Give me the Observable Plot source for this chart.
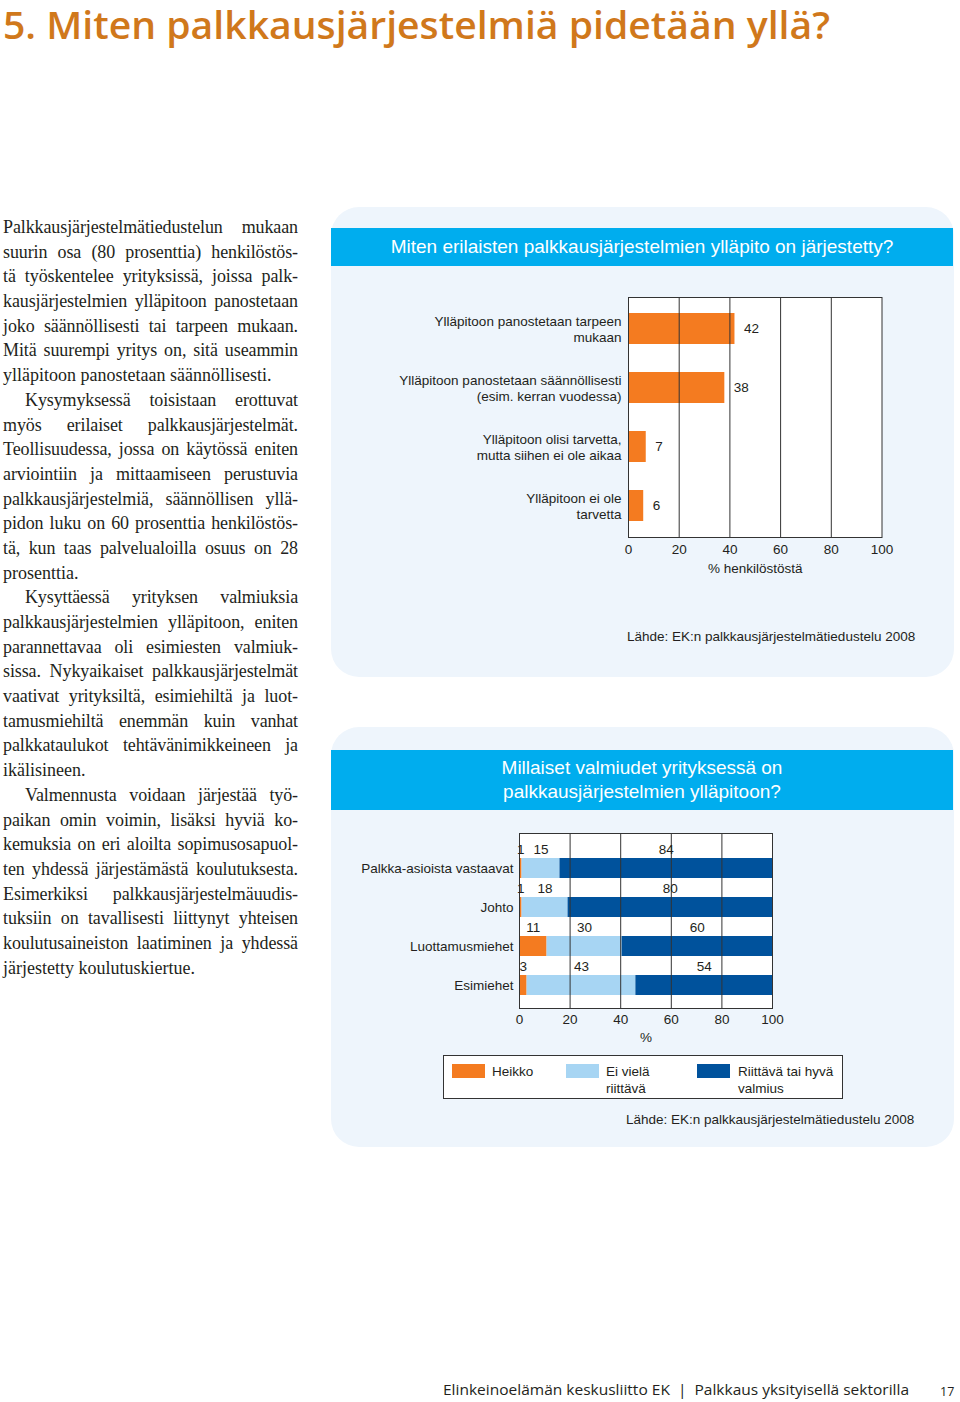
<!DOCTYPE html>
<html lang="fi">
<head>
<meta charset="utf-8">
<script src="https://cdn.jsdelivr.net/npm/d3@7"></script>
<script src="https://cdn.jsdelivr.net/npm/@observablehq/plot@0.6"></script>
<style>
  html, body { margin: 0; padding: 0; background: #fff; }
  body { width: 960px; height: 1402px; position: relative; overflow: hidden; }
  .abs { position: absolute; }
  #title { left: 3px; top: 1px; font-family: "Open Sans", sans-serif; font-weight: 600; font-size: 38px; line-height: 46px; color: #d0781b; white-space: nowrap; transform-origin: 0 0; }
  #body { left: 3px; top: 215px; width: 295px; font-family: "Liberation Serif", "Times New Roman", serif; font-size: 18px; line-height: 24.7px; color: #231f20; }
  #body .l { height: 24.7px; white-space: nowrap; overflow: visible; }
  #body .j { text-align: justify; text-align-last: justify; }
  #body .i { padding-left: 22px; }
  .panel { background: #eef5fc; border-radius: 28px; }
  .band { background: #00adee; color: #fff; font-family: "Liberation Sans", Arial, sans-serif; font-size: 19px; text-align: center; }
  .src { font-family: "Liberation Sans", Arial, sans-serif; font-size: 13.5px; color: #231f20; white-space: nowrap; line-height: 16px; }
  #legend { left: 443px; top: 1055px; width: 398px; height: 42px; background: #fff; border: 1.5px solid #333; font-family: "Liberation Sans", Arial, sans-serif; font-size: 13.5px; color: #231f20; }
  #legend .sw { position: absolute; top: 8px; width: 33px; height: 14px; }
  #legend .lt { position: absolute; top: 7px; line-height: 17px; }
  #footer { left: 443px; top: 1380px; font-family: "Open Sans", sans-serif; font-size: 14px; line-height: 20px; color: #231f20; white-space: nowrap; transform-origin: 0 0; }
  #page { left: 940px; top: 1382px; font-family: "Open Sans", sans-serif; font-size: 12.5px; line-height: 20px; color: #231f20; }
</style>
</head>
<body>
<script>
// ---------- Data ----------
const pageTitle = "5. Miten palkkausjärjestelmiä pidetään yllä?";

const chart1Title = "Miten erilaisten palkkausjärjestelmien ylläpito on järjestetty?";
const maintCategories = [
  "Ylläpitoon panostetaan tarpeen\nmukaan",
  "Ylläpitoon panostetaan säännöllisesti\n(esim. kerran vuodessa)",
  "Ylläpitoon olisi tarvetta,\nmutta siihen ei ole aikaa",
  "Ylläpitoon ei ole\ntarvetta"
];
const maintValues = [42, 38, 7, 6];
const chart1XLabel = "% henkilöstöstä";

const chart2TitleLines = ["Millaiset valmiudet yrityksessä on", "palkkausjärjestelmien ylläpitoon?"];
const readinessGroups = ["Palkka-asioista vastaavat", "Johto", "Luottamusmiehet", "Esimiehet"];
const readinessLevels = ["Heikko", "Ei vielä riittävä", "Riittävä tai hyvä valmius"];
const legendLabels = ["Heikko", "Ei vielä\nriittävä", "Riittävä tai hyvä\nvalmius"];
const heikkoValues = [1, 1, 11, 3];
const eiVielaValues = [15, 18, 30, 43];
const riittavaValues = [84, 80, 60, 54];
const levelColors = ["#f47b20", "#a7d5f3", "#00529c"];
const chart2XLabel = "%";

const xTicks = [0, 20, 40, 60, 80, 100];
const gridValues = [20, 40, 60, 80];
const sourceText = "Lähde: EK:n palkkausjärjestelmätiedustelu 2008";
const footerText = "Elinkeinoelämän keskusliitto EK  |  Palkkaus yksityisellä sektorilla";
const pageNumber = "17";

// body text lines: [text, type]  j = justified, e = paragraph end, i = indented first line
const bodyLines = [
  ["Palkkausjärjestelmätiedustelun mukaan", "j"],
  ["suurin osa (80 prosenttia) henkilöstös-", "j"],
  ["tä työskentelee yrityksissä, joissa palk-", "j"],
  ["kausjärjestelmien ylläpitoon panostetaan", "j"],
  ["joko säännöllisesti tai tarpeen mukaan.", "j"],
  ["Mitä suurempi yritys on, sitä useammin", "j"],
  ["ylläpitoon panostetaan säännöllisesti.", "e"],
  ["Kysymyksessä toisistaan erottuvat", "ij"],
  ["myös erilaiset palkkausjärjestelmät.", "j"],
  ["Teollisuudessa, jossa on käytössä eniten", "j"],
  ["arviointiin ja mittaamiseen perustuvia", "j"],
  ["palkkausjärjestelmiä, säännöllisen yllä-", "j"],
  ["pidon luku on 60 prosenttia henkilöstös-", "j"],
  ["tä, kun taas palvelualoilla osuus on 28", "j"],
  ["prosenttia.", "e"],
  ["Kysyttäessä yrityksen valmiuksia", "ij"],
  ["palkkausjärjestelmien ylläpitoon, eniten", "j"],
  ["parannettavaa oli esimiesten valmiuk-", "j"],
  ["sissa. Nykyaikaiset palkkausjärjestelmät", "j"],
  ["vaativat yrityksiltä, esimiehiltä ja luot-", "j"],
  ["tamusmiehiltä enemmän kuin vanhat", "j"],
  ["palkkataulukot tehtävänimikkeineen ja", "j"],
  ["ikälisineen.", "e"],
  ["Valmennusta voidaan järjestää työ-", "ij"],
  ["paikan omin voimin, lisäksi hyviä ko-", "j"],
  ["kemuksia on eri aloilta sopimusosapuol-", "j"],
  ["ten yhdessä järjestämästä koulutuksesta.", "j"],
  ["Esimerkiksi palkkausjärjestelmäuudis-", "j"],
  ["tuksiin on tavallisesti liittynyt yhteisen", "j"],
  ["koulutusaineiston laatiminen ja yhdessä", "j"],
  ["järjestetty koulutuskiertue.", "e"]
];

// ---------- Helpers ----------
function el(tag, cls, style, text) {
  const e = document.createElement(tag);
  if (cls) e.className = cls;
  if (style) Object.assign(e.style, style);
  if (text != null) e.textContent = text;
  document.body.appendChild(e);
  return e;
}
function fitWidth(e, target) {
  const w = e.getBoundingClientRect().width;
  if (w > 0) e.style.transform = `scaleX(${target / w})`;
}

// ---------- Page title ----------
const t = el("div", "abs", null, pageTitle);
t.id = "title";
t.style.display = "inline-block";

// ---------- Body text ----------
const body = el("div", "abs");
body.id = "body";
const bodyDivs = [];
for (const [txt, type] of bodyLines) {
  const d = document.createElement("div");
  d.className = "l" + (type.includes("j") ? " j" : "") + (type.includes("i") ? " i" : "");
  const s = document.createElement("span");
  s.textContent = txt;
  d.appendChild(s);
  body.appendChild(d);
  bodyDivs.push([d, s, type]);
}
// tighten letters on lines that would not fit the column
for (const [d, s, type] of bodyDivs) {
  const avail = 295 - (type.includes("i") ? 22 : 0);
  const w = s.getBoundingClientRect().width;
  if (w > avail - 4) {
    const ls = (avail - 4 - w) / s.textContent.length;
    d.style.letterSpacing = ls.toFixed(3) + "px";
  }
}

// ---------- Panels ----------
el("div", "abs panel", {left: "331px", top: "207px", width: "623px", height: "470px"});
el("div", "abs band", {left: "331px", top: "228px", width: "622px", height: "38px", lineHeight: "38px"}, chart1Title);
el("div", "abs src", {left: "627px", top: "629px"}, sourceText);

el("div", "abs panel", {left: "331px", top: "727px", width: "623px", height: "420px"});
const band2 = el("div", "abs band", {left: "331px", top: "750px", width: "622px", height: "60px", lineHeight: "24px", boxSizing: "border-box"});
const inner2 = document.createElement("div");
inner2.style.paddingTop = "6px";
inner2.style.whiteSpace = "pre";
inner2.textContent = chart2TitleLines.join("\n");
band2.appendChild(inner2);
el("div", "abs src", {left: "626px", top: "1112px"}, sourceText);

const chartFont = {fontFamily: '"Liberation Sans", Arial, sans-serif', fontSize: "13.5px", color: "#231f20", background: "transparent", overflow: "visible"};

// ---------- Chart 1 ----------
const data1 = maintCategories.map((c, i) => ({category: c, value: maintValues[i]}));
const chart1 = Plot.plot({
  width: 600, height: 287,
  marginLeft: 288, marginRight: 58.5, marginTop: 7, marginBottom: 40,
  style: chartFont,
  x: {domain: [0, 100]},
  y: {domain: maintCategories, paddingInner: 0.48, paddingOuter: 0.26},
  marks: [
    Plot.frame({fill: "#fff", stroke: null}),
    Plot.barX(data1, {x: "value", y: "category", fill: levelColors[0]}),
    Plot.ruleX(gridValues, {stroke: "#333", strokeWidth: 1}),
    Plot.frame({stroke: "#333", strokeWidth: 1}),
    Plot.text(data1, {x: "value", y: "category", text: d => String(d.value), dx: 9, textAnchor: "start", fill: "#231f20", fontSize: 13.5}),
    Plot.axisX({ticks: xTicks, tickSize: 0, tickPadding: 7, tickFormat: d => String(d), label: chart1XLabel, labelAnchor: "center", labelOffset: 35, labelArrow: "none", fontSize: 13.5}),
    Plot.axisY({tickSize: 0, tickPadding: 7, label: null, lineHeight: 1.15, fontSize: 13.5})
  ]
});
chart1.style.position = "absolute";
chart1.style.left = "340px";
chart1.style.top = "290px";
document.body.appendChild(chart1);

// ---------- Chart 2 ----------
const valuesByLevel = [heikkoValues, eiVielaValues, riittavaValues];
const data2 = [];
readinessGroups.forEach((g, gi) => {
  readinessLevels.forEach((lvl, li) => {
    data2.push({group: g, level: lvl, value: valuesByLevel[li][gi]});
  });
});
const chart2 = Plot.plot({
  width: 600, height: 222,
  marginLeft: 179, marginRight: 168, marginTop: 7, marginBottom: 40,
  style: chartFont,
  x: {domain: [0, 1]},
  y: {domain: readinessGroups, paddingInner: 0.495, paddingOuter: 0.45, align: 0.64},
  color: {domain: readinessLevels, range: levelColors},
  marks: [
    Plot.frame({fill: "#fff", stroke: null}),
    Plot.barX(data2, Plot.stackX({x: "value", y: "group", z: "level", fill: "level", offset: "normalize"})),
    Plot.ruleX(gridValues.map(v => v / 100), {stroke: "#333", strokeWidth: 1}),
    Plot.frame({stroke: "#333", strokeWidth: 1}),
    Plot.text(data2, Plot.stackX({x: "value", y: "group", z: "level", offset: "normalize", text: d => String(d.value), dy: -19, fill: "#231f20", fontSize: 13.5})),
    Plot.axisX({ticks: xTicks.map(v => v / 100), tickSize: 0, tickPadding: 6, tickFormat: d => String(Math.round(d * 100)), label: chart2XLabel, labelAnchor: "center", labelOffset: 33, labelArrow: "none", fontSize: 13.5}),
    Plot.axisY({tickSize: 0, tickPadding: 6, label: null, fontSize: 13.5})
  ]
});
chart2.style.position = "absolute";
chart2.style.left = "340px";
chart2.style.top = "826px";
document.body.appendChild(chart2);

// ---------- Legend ----------
const legend = el("div", "abs");
legend.id = "legend";
const swX = [8, 122, 253];
const txX = [48, 162, 294];
readinessLevels.forEach((lvl, i) => {
  const sw = document.createElement("div");
  sw.className = "sw";
  sw.style.left = swX[i] + "px";
  sw.style.background = levelColors[i];
  legend.appendChild(sw);
  const lt = document.createElement("div");
  lt.className = "lt";
  lt.style.left = txX[i] + "px";
  lt.style.whiteSpace = "pre";
  lt.textContent = legendLabels[i];
  legend.appendChild(lt);
});

// ---------- Footer ----------
const f = el("div", "abs", {display: "inline-block"}, footerText);
f.id = "footer";
f.style.whiteSpace = "pre";
const pn = el("div", "abs", null, pageNumber);
pn.id = "page";

// fit widths
fitWidth(t, 827);
fitWidth(f, 466);
</script>
</body>
</html>
